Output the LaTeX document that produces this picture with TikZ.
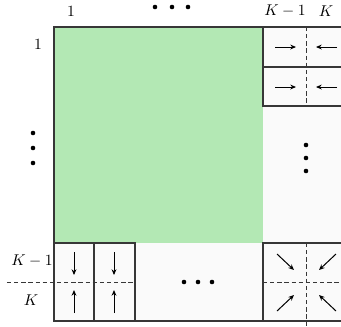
\documentclass[tikz,border=0pt]{standalone}
\usetikzlibrary{arrows.meta}
\definecolor{blockgreen}{RGB}{179,232,180}
\definecolor{cellgray}{RGB}{250,250,250}
\definecolor{edgegray}{RGB}{55,55,55}
\tikzset{
	griddash/.style={dashed, dash pattern=on 3pt off 2pt, line width=0.5pt, edgegray},
	cellbox/.style={draw=edgegray, line width=0.8pt, fill=cellgray},
	flow/.style={-{Stealth[length=4pt, width=3.4pt]}, line width=0.7pt},
	dotmark/.style={fill=black, circle, inner sep=0pt, minimum size=3.2pt},
	indexlabel/.style={font=\fontsize{11}{13}\selectfont}
}
\begin{document}
\begin{tikzpicture}[x=0.7pt, y=-0.7pt]
	\useasboundingbox (0, 0) rectangle (341, 326);
	\clip (0, 0) rectangle (341, 326);
	
	\fill[cellgray] (54, 27) rectangle (348, 321);
	\fill[blockgreen] (54, 27) rectangle (263, 243);
	\draw[edgegray, line width=0.8pt] (54, 27) rectangle (348, 321);
	
	% right column, rows 1 and 2
	\draw[cellbox] (263, 27) rectangle (348, 67);
	\draw[cellbox] (263, 67) rectangle (348, 106);
	\draw[griddash] (306.5, 27) -- (306.5, 106);
	\foreach \y in {47, 87} {
		\draw[flow] (275, \y) -- (296, \y);
		\draw[flow] (337, \y) -- (316, \y);
	}
	
	% bottom row, columns 1 and 2
	\draw[cellbox] (54, 243) rectangle (94, 321);
	\draw[cellbox] (94, 243) rectangle (135, 321);
	\draw[griddash] (7, 282) -- (135, 282);
	\foreach \x in {74, 114} {
		\draw[flow] (\x, 252) -- (\x, 275);
		\draw[flow] (\x, 313) -- (\x, 290);
	}
	
	% corner cell
	\draw[cellbox] (263, 243) rectangle (348, 321);
	\draw[griddash] (263, 282) -- (348, 282);
	\draw[griddash] (306.5, 243) -- (306.5, 326);
	\draw[flow] (277, 254) -- (294, 270);
	\draw[flow] (336, 254) -- (319, 270);
	\draw[flow] (277, 311) -- (294, 295);
	\draw[flow] (336, 311) -- (319, 295);
	
	% labels
	\node[indexlabel] (top1) at (71, 11) {$1$};
	\node[indexlabel] (topKm) at (285, 11) {$K-1$};
	\node[indexlabel] (topK) at (326, 11) {$K$};
	\node[indexlabel] (left1) at (38, 44) {$1$};
	\node[indexlabel] (leftKm) at (32, 261) {$K-1$};
	\node[indexlabel] (leftK) at (31, 300) {$K$};
	
	% ellipses
	\foreach \i/\x in {1/155, 2/172, 3/188}
		\node[dotmark] (topdot\i) at (\x, 7) {};
	\foreach \i/\y in {1/133, 2/148, 3/163}
		\node[dotmark] (leftdot\i) at (33, \y) {};
	\foreach \i/\x in {1/184, 2/198, 3/212}
		\node[dotmark] (bottomdot\i) at (\x, 282) {};
	\foreach \i/\y in {1/145, 2/158, 3/171}
		\node[dotmark] (rightdot\i) at (306, \y) {};
\end{tikzpicture}
\end{document}
